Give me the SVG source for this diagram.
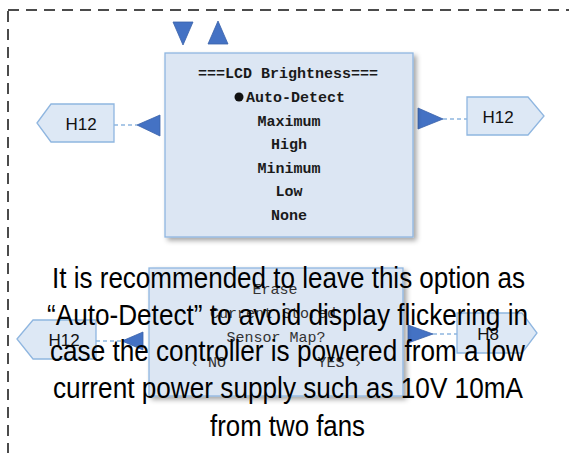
<svg xmlns="http://www.w3.org/2000/svg" width="569" height="453" viewBox="0 0 569 453">
<defs>
<filter id="sh" x="-10%" y="-10%" width="130%" height="130%">
<feDropShadow dx="3" dy="3" stdDeviation="2.5" flood-color="#000" flood-opacity="0.35"/>
</filter>
</defs>
<style>
.frame{fill:none;stroke:#111;stroke-width:1.5;stroke-dasharray:11 7}
.box{fill:#dce6f3;stroke:#8fb6e0;stroke-width:1.3}
.tag{fill:#dde8f5;stroke:#8fb6e0;stroke-width:1.3}
.tagt{font-family:"Liberation Sans",Arial,sans-serif;font-size:17px;fill:#111;text-anchor:middle}
.mono{font-family:"Liberation Mono","Courier New",monospace;font-size:15px;fill:#1a1a1a;text-anchor:middle;font-weight:bold}
.monol{font-family:"Liberation Mono","Courier New",monospace;font-size:15px;fill:#333;text-anchor:middle}
.tri{fill:#4472c4;stroke:#3a62aa;stroke-width:0.8}
.dl{stroke:#8fb6e0;stroke-width:1.3;stroke-dasharray:4 3;fill:none}
.big{font-family:"Liberation Sans Narrow","Liberation Sans",Arial,sans-serif;font-size:29px;fill:#000;text-anchor:middle}
</style>
<rect class="frame" x="8" y="10" width="620" height="520"/>
<g id="nav-buttons">
<polygon class="tri" points="173,22 193,22 183,45"/>
<polygon class="tri" points="218,21 228,44 208,44"/>
</g>
<g id="connectors">
<line class="dl" x1="114" y1="125" x2="137" y2="125"/>
<polygon class="tri" points="137,125 160,115 160,136"/>
<line class="dl" x1="443" y1="119" x2="467" y2="119"/>
<polygon class="tri" points="418,108 418,129 443,119"/>
<line class="dl" x1="96" y1="341" x2="122" y2="341"/>
<polygon class="tri" points="122,341 143,332 143,350"/>
<line class="dl" x1="433" y1="334" x2="457" y2="334"/>
<polygon class="tri" points="408,325 408,343 433,334"/>
</g>
<g id="lcd-brightness">
<rect class="box" x="165" y="53" width="248" height="184" filter="url(#sh)"/>
<text class="mono" x="288" y="78">===LCD Brightness===</text>
<circle cx="239" cy="97" r="4.5" fill="#111"/>
<text class="mono" x="295.5" y="102">Auto-Detect</text>
<text class="mono" x="289" y="126">Maximum</text>
<text class="mono" x="289" y="149">High</text>
<text class="mono" x="289" y="173">Minimum</text>
<text class="mono" x="289" y="196">Low</text>
<text class="mono" x="289" y="220">None</text>
</g>
<g id="h12-left">
<polygon class="tag" points="37,123 51,104 114,104 114,142 51,142"/>
<text class="tagt" x="81" y="130">H12</text>
</g>
<g id="h12-right">
<polygon class="tag" points="467,97 528,97 544,116 528,135 467,135"/>
<text class="tagt" x="498" y="123">H12</text>
</g>
<g id="h12-bottom">
<polygon class="tag" points="17,339 33,320 96,320 96,359 33,359"/>
<text class="tagt" x="64" y="346">H12</text>
</g>
<g id="h8">
<polygon class="tag" points="457,313 522,313 537,333 522,353 457,353"/>
<text class="tagt" x="488" y="340">H8</text>
</g>
<g id="erase-map">
<rect class="box" x="149" y="268" width="254" height="128" filter="url(#sh)"/>
<text class="monol" x="275" y="294">Erase</text>
<text class="monol" x="273" y="318">Current Stored</text>
<text class="monol" x="276" y="342">Sensor Map?</text>
<text class="monol" x="208" y="367">‹ NO</text>
<text class="monol" x="340" y="367">YES ›</text>
</g>
<g id="note">
<text class="big" x="288.5" y="288" textLength="473" lengthAdjust="spacingAndGlyphs">It is recommended to leave this option as</text>
<text class="big" x="287.5" y="325" textLength="481" lengthAdjust="spacingAndGlyphs">“Auto-Detect” to avoid display flickering in</text>
<text class="big" x="287.5" y="361" textLength="475" lengthAdjust="spacingAndGlyphs">case the controller is powered from a low</text>
<text class="big" x="288" y="398" textLength="470" lengthAdjust="spacingAndGlyphs">current power supply such as 10V 10mA</text>
<text class="big" x="287.5" y="436" textLength="155" lengthAdjust="spacingAndGlyphs">from two fans</text>
</g>
</svg>
